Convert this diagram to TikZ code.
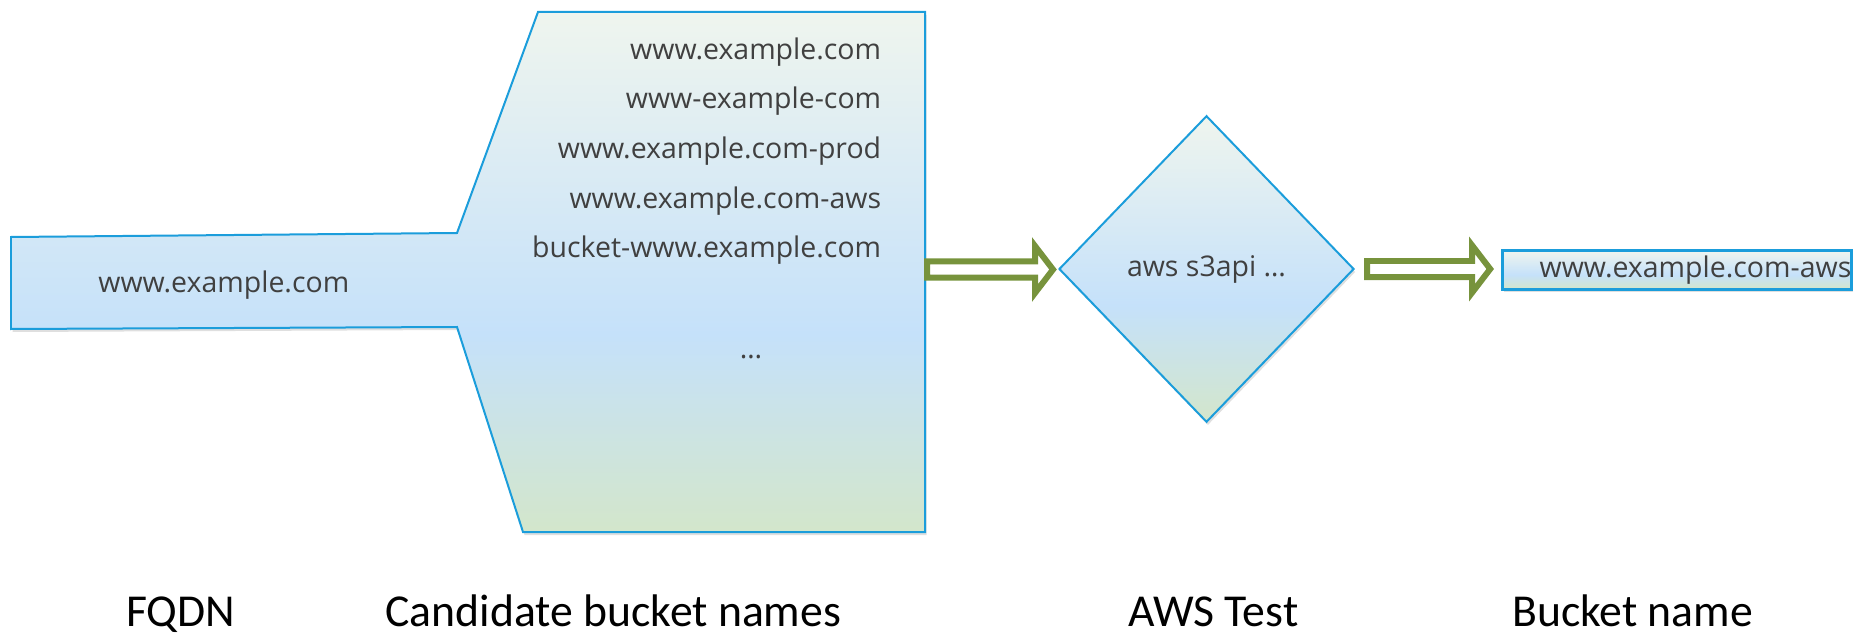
\documentclass[tikz,border=0pt]{standalone}
\usepackage{fontspec}
\setmainfont{Carlito}
\newfontfamily\boxfont{Open Sans}
\usetikzlibrary{positioning,shapes.geometric,calc,shadows}
\definecolor{edge}{HTML}{1B9DDB}
\definecolor{arrowgreen}{HTML}{77933C}
\definecolor{ink}{HTML}{404040}
\definecolor{gtop}{HTML}{EFF5EE}
\definecolor{gmid}{HTML}{C5E1FA}
\definecolor{gbot}{HTML}{D3E6CB}
\pgfdeclareverticalshading{officefill}{100bp}{color(0bp)=(gbot); color(25bp)=(gbot); color(44bp)=(gmid); color(75bp)=(gtop); color(100bp)=(gtop)}

\newcommand{\fatarrow}[2]{%
  \draw[arrowgreen, line width=0.12cm, fill=white] let \p1=(#1), \p2=(#2) in
    (\x1,\y1+0.16cm) -- (\x2-0.36cm,\y1+0.16cm) -- (\x2-0.36cm,\y1+0.47cm) -- (\x2,\y1)
    -- (\x2-0.36cm,\y1-0.47cm) -- (\x2-0.36cm,\y1-0.16cm) -- (\x1,\y1-0.16cm) -- cycle;}

\begin{document}
\begin{tikzpicture}[font=\boxfont\fontsize{16.2}{19}\selectfont, text=ink,
    bucketshape/.style={draw=edge, line width=0.04cm, shading=officefill,
      drop shadow={shadow xshift=0.03cm, shadow yshift=-0.06cm, opacity=0.25}},
    bucketname/.style={anchor=base east, inner sep=0},
    caption/.style={font=\normalfont\fontsize{26}{30}\selectfont, text=black, anchor=base west, inner sep=0}]
    \useasboundingbox (0,0) rectangle (37.08,12.72);
    \draw[bucketshape] (0.22,7.98) -- (9.14,8.06) -- (10.76,12.48) -- (18.50,12.48)
      -- (18.50,2.08) -- (10.46,2.08) -- (9.14,6.18) -- (0.22,6.14) -- cycle;
    \coordinate (candE) at (18.54,7.33);
    \node[anchor=base west, inner sep=0] (fqdn) at (1.96,6.88) {www.example.com};
    \foreach \nm [count=\i] in {www.example.com, www-example-com, www.example.com-prod,
        www.example.com-aws, bucket-www.example.com}
      \node[bucketname] (cand\i) at (17.63,{11.53-0.99*(\i-1)}) {\nm};
    \node[anchor=base, inner sep=0] (more) at (15.02,5.56) {…};
    \node[bucketshape, diamond, minimum width=5.9cm, minimum height=6.13cm, inner sep=0] (test) at (24.13,7.34) {aws s3api …};
    \node[bucketshape, line width=0.06cm, minimum width=6.96cm, minimum height=0.77cm, inner xsep=0, inner ysep=0] (result) at (33.54,7.32) {\hspace*{0.74cm}www.example.com-aws};
    \fatarrow{candE}{[xshift=-0.1cm]test.west}
    \fatarrow{[xshift=0.24cm]test.east}{[xshift=-0.22cm]result.west}
    \node[caption] (lblfqdn) at (2.52,0.2) {FQDN};
    \node[caption] (lblcand) at (7.70,0.2) {Candidate bucket names};
    \node[caption] (lbltest) at (22.56,0.2) {AWS Test};
    \node[caption] (lblbucket) at (30.24,0.2) {Bucket name};
  \end{tikzpicture}
\end{document}
